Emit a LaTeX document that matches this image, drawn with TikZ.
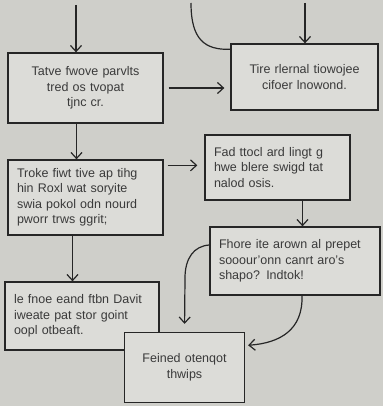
\documentclass[tikz,border=0pt]{standalone}
\usepackage{fontspec}
\setmainfont{Liberation Sans}
\usetikzlibrary{arrows.meta}

\definecolor{paper}{RGB}{207,207,202}
\definecolor{card}{RGB}{220,220,216}
\definecolor{ink}{RGB}{38,38,38}
\definecolor{lead}{RGB}{58,58,58}

\tikzset{
  box/.style={draw=ink, line width=1.3pt, fill=card, text=lead,
    inner xsep=9pt, inner ysep=4pt, font=\fontsize{12.5}{15.5}\selectfont},
  link/.style={draw=ink, line width=1.2pt, -{Straight Barb[length=6pt,width=11pt]}},
  plain/.style={draw=ink, line width=1.2pt}
}

\begin{document}
\begin{tikzpicture}[x=1pt,y=-1pt]
\fill[paper] (0,0) rectangle (383,406);
\useasboundingbox (0,0) rectangle (383,406);

% boxes
\node[box, text width=137pt, minimum height=70pt, align=center] (tatve) at (85.5,88)
  {Tatve fwove parvlts\\ tred os tvopat\\ tjnc cr.};
\node[box, text width=129pt, minimum height=66pt, align=center] (tire) at (304.5,77)
  {Tire rlernal tiowojee\\ cifoer lnowond.};
\node[box, text width=137pt, minimum height=75pt, align=left] (troke) at (85.5,197.5)
  {Troke fiwt tive ap tihg\\ hin Roxl wat soryite\\ swia pokol odn nourd\\ pworr trws ggrit;};
\node[box, text width=127pt, minimum height=65pt, align=left] (fad) at (277.5,167.5)
  {Fad ttocl ard lingt g\\ hwe blere swigd tat\\ nalod osis.};
\node[box, text width=152pt, minimum height=68pt, align=left] (fhore) at (295,261)
  {Fhore ite arown al prepet\\ sooour'onn canrt aro's\\ shapo? Indtok!};
\node[box, text width=136pt, minimum height=68pt, align=left] (fnoe) at (82,316)
  {le fnoe eand ftbn Davit\\ iweate pat stor goint\\ oopl otbeaft.};
\node[box, text width=102pt, minimum height=70pt, align=center] (feined) at (184.5,367.5)
  {Feined otenqot\\ thwips};

% loose ends at the top
\coordinate (topA) at (76,5);
\coordinate (topB) at (305,3);
\coordinate (topC) at (191,3);

\draw[link] (topA) -- (topA |- tatve.north);
\draw[link] (topB) -- (topB |- tire.north);
\draw[plain] (topC) .. controls (191,40) and (205,50) .. ([yshift=-6pt]tire.north west);

% flow
\draw[link, shorten <=5pt, shorten >=6pt] (tatve.east) -- (tatve.east -| tire.west);
\draw[link] ([xshift=-9pt]tatve.south) -- ([xshift=-9pt]troke.north);
\draw[link, shorten <=4pt, shorten >=7pt] ([yshift=-6pt]troke.north east) -- ([yshift=-6pt]troke.north east -| fad.west);
\draw[link] ([xshift=25pt]fad.south) -- ([xshift=25pt]fad.south |- fhore.north);
\draw[link] ([xshift=-13pt]troke.south) -- ([xshift=-13pt]troke.south |- fnoe.north);
\draw[link, shorten >=8pt] ([yshift=16pt]fhore.west) .. controls (194,246) and (185,258) .. (185,278) -- (feined.north);
\draw[link, shorten >=3pt] ([xshift=7pt]fhore.south) .. controls (303,330) and (280,343) .. ([yshift=22pt]feined.east);
\end{tikzpicture}
\end{document}
